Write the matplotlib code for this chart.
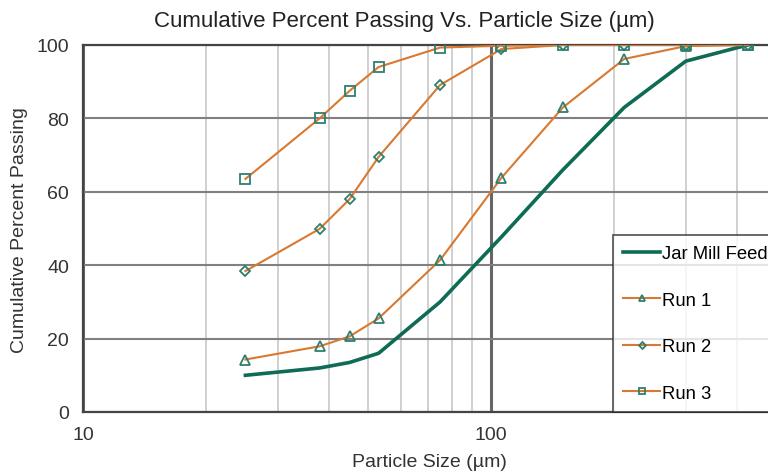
import matplotlib.pyplot as plt
from matplotlib.ticker import FixedLocator, NullFormatter

plt.rcParams['font.family'] = ['Liberation Sans', 'DejaVu Sans']

# sieve sizes (um) and cumulative % passing
sizes = [25, 38, 45, 53, 75, 106, 150, 212, 300, 425]
feed = [10, 12, 13.5, 16, 30, 47.7, 66, 83, 95.6, 100]
run1 = [14.3, 17.9, 20.6, 25.5, 41.4, 63.8, 83, 96.2, 99.7, 100]
run2 = [38.4, 49.9, 58, 69.5, 89.1, 98.9, 100, 100, 100, 100]
run3 = [63.5, 80, 87.5, 94, 99.3, 99.8, 100, 100, 100, 100]

orange = '#D9782F'
teal = '#2F7F6E'
feed_col = '#0E6B55'

fig = plt.figure(figsize=(7.68, 4.77), dpi=100)
ax = fig.add_axes([83 / 768, 64 / 477, 685 / 768, 367 / 477])

ax.set_xscale('log')
ax.set_xlim(10, 477)
ax.set_ylim(0, 100)

ax.plot(sizes, feed, color=feed_col, lw=2.6, solid_joinstyle='round',
        label='Jar Mill Feed', zorder=3)
ax.plot(sizes, run1, color=orange, lw=1.5, marker='^', ms=7, mfc='none',
        mec=teal, mew=1.3, label='Run 1', zorder=4)
ax.plot(sizes, run2, color=orange, lw=1.5, marker='D', ms=5, mfc='none',
        mec=teal, mew=1.3, label='Run 2', zorder=4)
ax.plot(sizes, run3, color=orange, lw=1.5, marker='s', ms=7, mfc='none',
        mec=teal, mew=1.3, label='Run 3', zorder=4)

# grid
ax.xaxis.set_major_locator(FixedLocator([10, 100]))
ax.xaxis.set_minor_locator(FixedLocator([20, 30, 40, 50, 60, 70, 80, 90,
                                         200, 300, 400]))
ax.xaxis.set_minor_formatter(NullFormatter())
ax.set_xticks([10, 100])
ax.set_xticklabels(['10', '100'])
ax.set_yticks([0, 20, 40, 60, 80, 100])
ax.grid(True, which='minor', axis='x', color='#c8c8c8', lw=1.2)
ax.grid(True, which='major', axis='x', color='#666666', lw=2.2)
ax.grid(True, which='major', axis='y', color='#808080', lw=1.5)
ax.set_axisbelow(True)

ax.tick_params(which='both', length=0, labelsize=14, colors='#333333',
               pad=10)
ax.tick_params(axis='y', pad=10)
for side in ['left', 'bottom', 'top']:
    ax.spines[side].set_color('#444444')
    ax.spines[side].set_linewidth(1.6)
ax.spines['right'].set_visible(False)

fig.text(404 / 768, 1 - 22 / 477, 'Cumulative Percent Passing Vs. Particle Size (µm)',
         ha='center', va='center', fontsize=16, color='#222222')
fig.text(429 / 768, 1 - 463 / 477, 'Particle Size (µm)', ha='center',
         va='center', fontsize=14, color='#333333')
fig.text(20 / 768, 1 - 230 / 477, 'Cumulative Percent Passing', ha='center',
         va='center', rotation=90, fontsize=14, color='#333333')

leg = fig.legend(loc='lower left', bbox_to_anchor=(613 / 768, 64 / 477),
                 fontsize=13.3, frameon=True, fancybox=False,
                 borderaxespad=0, handlelength=2.0, handletextpad=0.1,
                 labelspacing=1.6, borderpad=0.55, markerscale=0.7)
leg.get_frame().set_edgecolor('#222222')
leg.get_frame().set_linewidth(1.2)

fig.savefig('out.png', dpi=100)
